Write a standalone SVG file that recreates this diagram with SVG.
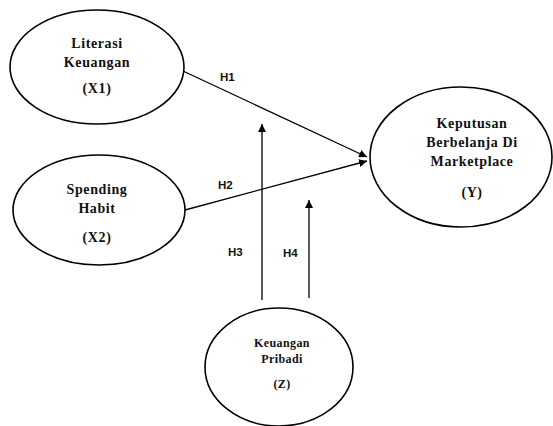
<svg xmlns="http://www.w3.org/2000/svg" width="553" height="426" viewBox="0 0 553 426">
<defs>
<style>
.node{fill:#fff;stroke:#000;stroke-width:1.6}
.t{font-family:"Liberation Serif",serif;font-weight:bold;font-size:14px;letter-spacing:0.6px;fill:#111;text-anchor:middle}
.ts{font-family:"Liberation Serif",serif;font-weight:bold;font-size:12px;letter-spacing:0.4px;fill:#111;text-anchor:middle}
.h{font-family:"Liberation Sans",sans-serif;font-weight:bold;font-size:11.5px;fill:#111}
.c{stroke:#000;stroke-width:1.3;fill:none;marker-end:url(#ah)}
</style>
<marker id="ah" viewBox="0 0 10 10" refX="10" refY="5" markerWidth="8" markerHeight="8" markerUnits="userSpaceOnUse" orient="auto">
<path d="M0,0 L10,5 L0,10 z" fill="#000"/>
</marker>
</defs>
<rect width="553" height="426" fill="#fff"/>
<g id="connectors">
<line class="c" x1="183" y1="71" x2="367" y2="157"/>
<line class="c" x1="185" y1="210" x2="367" y2="161"/>
<line class="c" x1="262" y1="300" x2="262" y2="124"/>
<line class="c" x1="309" y1="298" x2="309" y2="200"/>
<text class="h" x="220" y="81">H1</text>
<text class="h" x="218" y="189">H2</text>
<text class="h" x="228" y="256">H3</text>
<text class="h" x="283" y="257">H4</text>
</g>
<g id="x1">
<ellipse class="node" cx="97" cy="67" rx="87" ry="57"/>
<text class="t" x="97" y="48">Literasi</text>
<text class="t" x="97" y="67">Keuangan</text>
<text class="t" x="97" y="93">(X1)</text>
</g>
<g id="x2">
<ellipse class="node" cx="99" cy="210" rx="86" ry="55"/>
<text class="t" x="97" y="194">Spending</text>
<text class="t" x="97" y="213">Habit</text>
<text class="t" x="97" y="242">(X2)</text>
</g>
<g id="y">
<ellipse class="node" cx="461" cy="157" rx="91" ry="70"/>
<text class="t" x="472" y="128">Keputusan</text>
<text class="t" x="472" y="147">Berbelanja Di</text>
<text class="t" x="472" y="166">Marketplace</text>
<text class="t" x="472" y="197">(Y)</text>
</g>
<g id="z">
<ellipse class="node" cx="279" cy="367" rx="74" ry="59"/>
<text class="ts" x="282" y="347">Keuangan</text>
<text class="ts" x="282" y="363">Pribadi</text>
<text class="ts" x="282" y="388">(Z)</text>
</g>
</svg>
